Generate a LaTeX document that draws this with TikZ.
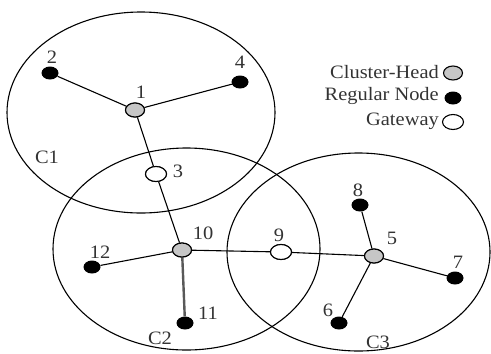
\documentclass[tikz,border=0pt]{standalone}
\usepackage{fontspec}
\setmainfont[FakeStretch=1.08]{Liberation Serif}
\usetikzlibrary{shapes.geometric}
\begin{document}
\begin{tikzpicture}[x=1bp,y=-1bp,
  lbl/.style={font=\fontsize{19}{22}\selectfont, inner sep=0pt, text=black!80},
  head/.style={ellipse, draw, fill=gray!45, minimum width=19bp, minimum height=14bp, inner sep=0pt, line width=1.1bp},
  reg/.style={ellipse, fill=black, minimum width=17bp, minimum height=13bp, inner sep=0pt},
  gate/.style={ellipse, draw, fill=white, minimum width=21bp, minimum height=15bp, inner sep=0pt, line width=1.1bp},
  link/.style={line width=1.1bp},
  clus/.style={line width=1.1bp}]
\useasboundingbox (0,0) rectangle (491,353);
% clusters
\draw[clus] (141,112.5) ellipse [x radius=134, y radius=100.5];
\draw[clus] (186.5,249) ellipse [x radius=133.5, y radius=101];
\draw[clus] (358.5,252) ellipse [x radius=131.5, y radius=99];
% nodes
\node[head] (n1) at (135,110) {};
\node[reg] (n2) at (50,73) {};
\node[reg] (n4) at (240,82) {};
\node[gate] (n3) at (156,174) {};
\node[head] (n10) at (182,250) {};
\node[reg] (n12) at (92,267) {};
\node[reg] (n11) at (185,323) {};
\node[gate] (n9) at (281,252) {};
\node[head] (n5) at (374,256) {};
\node[reg] (n8) at (360,205) {};
\node[reg] (n7) at (455,278) {};
\node[reg] (n6) at (339,323) {};
% links
\draw[link] (n1) -- (n2);
\draw[link] (n1) -- (n4);
\draw[link] (n1) -- (n3);
\draw[link] (n3) -- (n10);
\draw[link] (n10) -- (n12);
\draw[line width=2.4bp, gray!70!black] (n10) -- (n11);
\draw[link] (n10) -- (n9);
\draw[link] (n9) -- (n5);
\draw[link] (n5) -- (n8);
\draw[link] (n5) -- (n7);
\draw[link] (n5) -- (n6);
% redraw nodes on top
\node[head] at (n1) {};
\node[head] at (n10) {};
\node[head] at (n5) {};
\node[gate] at (n3) {};
\node[gate] at (n9) {};
% labels
\node[lbl] (l1) at (141,92) {1};
\node[lbl] (l2) at (52,57) {2};
\node[lbl] (l4) at (240,62) {4};
\node[lbl] (l3) at (178,171) {3};
\node[lbl] (l10) at (203,233) {10};
\node[lbl] (l12) at (100,252) {12};
\node[lbl] (l11) at (208,313) {11};
\node[lbl] (l9) at (279,235) {9};
\node[lbl] (l5) at (392,238) {5};
\node[lbl] (l8) at (358,190) {8};
\node[lbl] (l7) at (458,262) {7};
\node[lbl] (l6) at (328,310) {6};
\node[lbl] (c1) at (47,157) {C1};
\node[lbl] (c2) at (160,338) {C2};
\node[lbl] (c3) at (378,342) {C3};
% legend
\node[head] (kh) at (453,73) {};
\node[reg] (kr) at (453,98) {};
\node[gate] (kg) at (453,122) {};
\node[lbl, anchor=east] (th) at (439,72) {Cluster-Head};
\node[lbl, anchor=east] (tr) at (439,96) {Regular Node};
\node[lbl, anchor=east] (tg) at (439,121) {Gateway};
\end{tikzpicture}
\end{document}
